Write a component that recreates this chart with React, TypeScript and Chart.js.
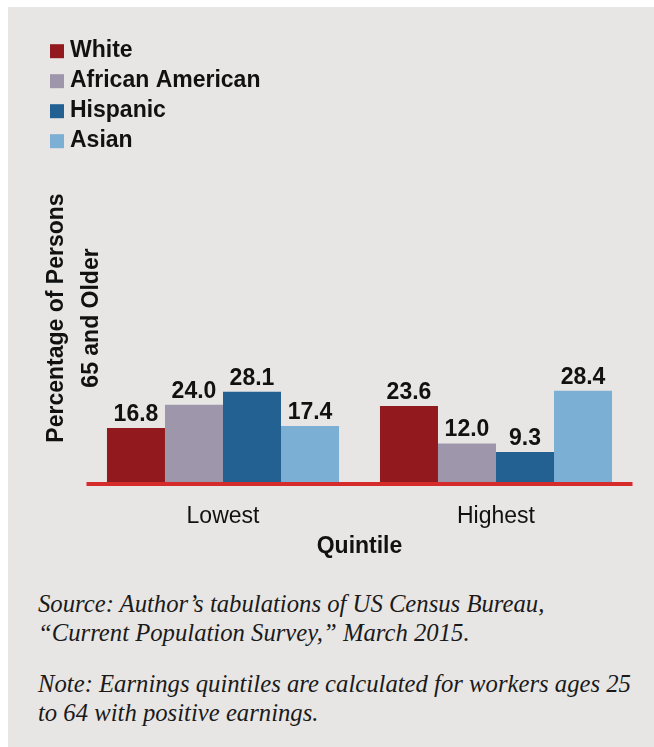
import React, { useEffect, useRef } from 'react';
import { Chart, registerables } from 'chart.js';

Chart.register(...registerables);

// ---- data ----
const categories = ['Lowest', 'Highest'];
const seriesNames = ['White', 'African American', 'Hispanic', 'Asian'];
const whiteValues = [16.8, 23.6];
const africanAmericanValues = [24.0, 12.0];
const hispanicValues = [28.1, 9.3];
const asianValues = [17.4, 28.4];
const seriesColors = ['#921a1f', '#9e96aa', '#236192', '#7bafd4'];
const yAxisTitle = ['Percentage of Persons', '65 and Older'];
const xAxisTitle = 'Quintile';
const sourceLines = ['Source: Author’s tabulations of US Census Bureau,', '“Current Population Survey,” March 2015.'];
const noteLines = ['Note: Earnings quintiles are calculated for workers ages 25', 'to 64 with positive earnings.'];

const SANS = '"Liberation Sans", Arial, Helvetica, sans-serif';
const TEXT = '#111111';

const columnLegend = {
  id: 'columnLegend',
  afterDraw(chart: any) {
    const ctx = chart.ctx;
    ctx.save();
    ctx.font = `bold 23px ${SANS}`;
    ctx.textAlign = 'left';
    ctx.textBaseline = 'alphabetic';
    chart.data.datasets.forEach((ds: any, i: number) => {
      const top = 37.2 + i * 30;
      ctx.fillStyle = ds.backgroundColor;
      ctx.fillRect(42, top, 14, 14);
      ctx.fillStyle = TEXT;
      ctx.fillText(ds.label, 62, top + 12.3);
    });
    ctx.restore();
  },
};

const valueLabels = {
  id: 'valueLabels',
  afterDatasetsDraw(chart: any) {
    const ctx = chart.ctx;
    ctx.save();
    ctx.font = `bold 23px ${SANS}`;
    ctx.textAlign = 'center';
    ctx.textBaseline = 'alphabetic';
    ctx.fillStyle = TEXT;
    chart.data.datasets.forEach((ds: any, i: number) => {
      chart.getDatasetMeta(i).data.forEach((bar: any, j: number) => {
        ctx.fillText(Number(ds.data[j]).toFixed(1), bar.x, bar.y - 7);
      });
    });
    const { left, right, bottom } = chart.chartArea;
    ctx.fillStyle = '#d62b2b';
    ctx.fillRect(left, bottom, right - left, 4);
    ctx.restore();
  },
};

function BarChart() {
  const ref = useRef<HTMLCanvasElement | null>(null);
  useEffect(() => {
    if (!ref.current) return;
    const seriesValues = [whiteValues, africanAmericanValues, hispanicValues, asianValues];
    const chart = new Chart(ref.current, {
      type: 'bar',
      data: {
        labels: categories,
        datasets: seriesNames.map((name, i) => ({
          label: name,
          data: seriesValues[i],
          backgroundColor: seriesColors[i],
          borderWidth: 0,
          categoryPercentage: 0.85,
          barPercentage: 1,
        })),
      },
      options: {
        animation: false,
        responsive: false,
        devicePixelRatio: 1,
        layout: { padding: { left: 31.5, right: 21.5, top: 147, bottom: 4.2 } },
        plugins: {
          legend: { display: false },
          tooltip: { enabled: false },
        },
        scales: {
          x: {
            grid: { display: false, drawTicks: false },
            border: { display: false },
            ticks: { color: TEXT, padding: 21.2, font: { family: SANS, size: 23, weight: 'normal' } },
            title: {
              display: true,
              text: xAxisTitle,
              color: TEXT,
              font: { family: SANS, size: 23, weight: 'bold' },
              padding: { top: -18.8, bottom: 2 },
            },
          },
          y: {
            min: 0,
            max: 102,
            grid: { display: false, drawTicks: false },
            border: { display: false },
            ticks: { display: false },
            title: {
              display: true,
              text: yAxisTitle,
              color: TEXT,
              font: { family: SANS, size: 23, weight: 'bold', lineHeight: 35 / 23 },
              padding: { top: 0, bottom: -23 },
            },
          },
        },
      } as any,
      plugins: [valueLabels, columnLegend],
    });
    return () => chart.destroy();
  }, []);
  return (
    <canvas
      ref={ref}
      width={646}
      height={560}
      style={{ position: 'absolute', left: 0, top: 0, width: 646, height: 560, display: 'block' }}
    />
  );
}

export default function App() {
  const noteStyle: React.CSSProperties = {
    margin: 0,
    whiteSpace: 'nowrap',
  };
  return (
    <div
      style={{
        position: 'fixed',
        left: 8,
        top: 7,
        width: 646,
        height: 740,
        background: '#e8e6e4',
        overflow: 'hidden',
      }}
    >
      <BarChart />
      <div
        style={{
          position: 'absolute',
          left: 30,
          top: 582,
          fontFamily: '"Liberation Serif", "Times New Roman", serif',
          fontStyle: 'italic',
          fontSize: 24.7,
          lineHeight: '29px',
          color: '#1a1a1a',
        }}
      >
        <p style={noteStyle}>
          {sourceLines[0]}
          <br />
          {sourceLines[1]}
        </p>
        <p style={{ ...noteStyle, marginTop: 22 }}>
          {noteLines[0]}
          <br />
          {noteLines[1]}
        </p>
      </div>
    </div>
  );
}
